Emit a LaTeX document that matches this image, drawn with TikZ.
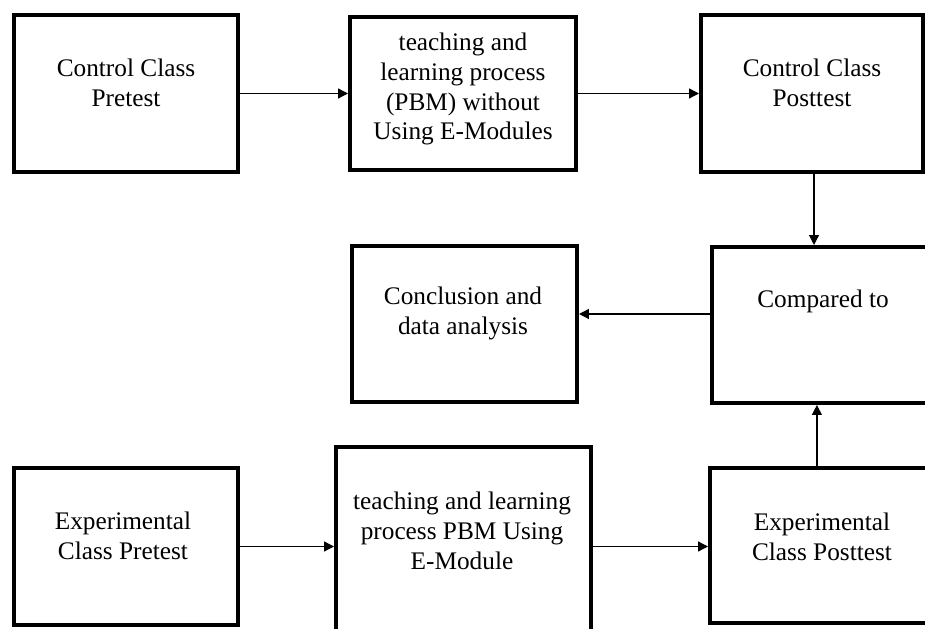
\documentclass[tikz,border=0pt]{standalone}
\usepackage{fontspec}
\setmainfont{Liberation Serif}
\usetikzlibrary{arrows.meta, positioning, calc}

\begin{document}
\begin{tikzpicture}[
  stage/.style={draw, line width=2.85pt, minimum width=#1, inner sep=0pt},
  caption/.style={align=center, font=\fontsize{18}{21.3}\selectfont, inner sep=0pt},
  flow/.style={-{Triangle[length=7pt,width=7pt]}, line width=0.9pt}
]
\clip (0,0) rectangle (23.125,15.7);
% control group (top row)
\node[stage=5.6cm, minimum height=3.925cm] (ctrlpre) at (3.15,13.3625) {};
\node[stage=5.65cm, minimum height=3.825cm] (ctrlpbm) at (11.575,13.3625) {};
\node[stage=5.55cm, minimum height=3.925cm] (ctrlpost) at (20.3,13.3625) {};
% middle row
\node[stage=5.625cm, minimum height=3.9cm] (concl) at (11.6125,7.6) {};
\node[stage=5.575cm, minimum height=3.9cm] (compare) at (20.5875,7.575) {};
% experimental group (bottom row)
\node[stage=5.6cm, minimum height=3.925cm] (exppre) at (3.15,2.0375) {};
\node[stage=6.375cm, minimum height=5.325cm] (exppbm) at (11.5875,1.8625) {};
\node[stage=5.625cm, minimum height=3.875cm] (exppost) at (20.5625,2.0625) {};

% texts
\node[caption] (ctrlpre-t) at (3.15,13.625) {Control Class\\Pretest};
\node[caption] (ctrlpbm-t) at (11.575,13.475) {teaching and\\learning process\\(PBM) without\\Using E-Modules};
\node[caption] (ctrlpost-t) at (20.3,13.6375) {Control Class\\Posttest};
\node[caption] (concl-t) at (11.575,7.875) {Conclusion and\\data analysis};
\node[caption] (compare-t) at (20.575,8.175) {Compared to};
\node[caption] (exppre-t) at (3.075,2.3) {Experimental\\Class Pretest};
\node[caption] (exppbm-t) at (11.55,2.425) {teaching and learning\\process PBM Using\\E-Module};
\node[caption] (exppost-t) at (20.55,2.2875) {Experimental\\Class Posttest};

% connectors
\draw[flow] (ctrlpre.east) -- (ctrlpbm.west);
\draw[flow] (ctrlpbm.east) -- (ctrlpost.west);
\draw[flow] ([xshift=0.05cm]ctrlpost.south) -- ([xshift=0.05cm]ctrlpost.south |- compare.north);
\coordinate (cmpout) at ([yshift=0.275cm]compare.west);
\draw[flow] (cmpout) -- (cmpout -| concl.east);
\draw[flow] (exppre.east) -- (exppbm.west |- exppre.east);
\draw[flow] (exppbm.east |- exppre.east) -- (exppost.west |- exppre.east);
\coordinate (expup) at ([xshift=-0.14cm]exppost.north);
\draw[flow] (expup) -- (expup |- compare.south);
\end{tikzpicture}
\end{document}
